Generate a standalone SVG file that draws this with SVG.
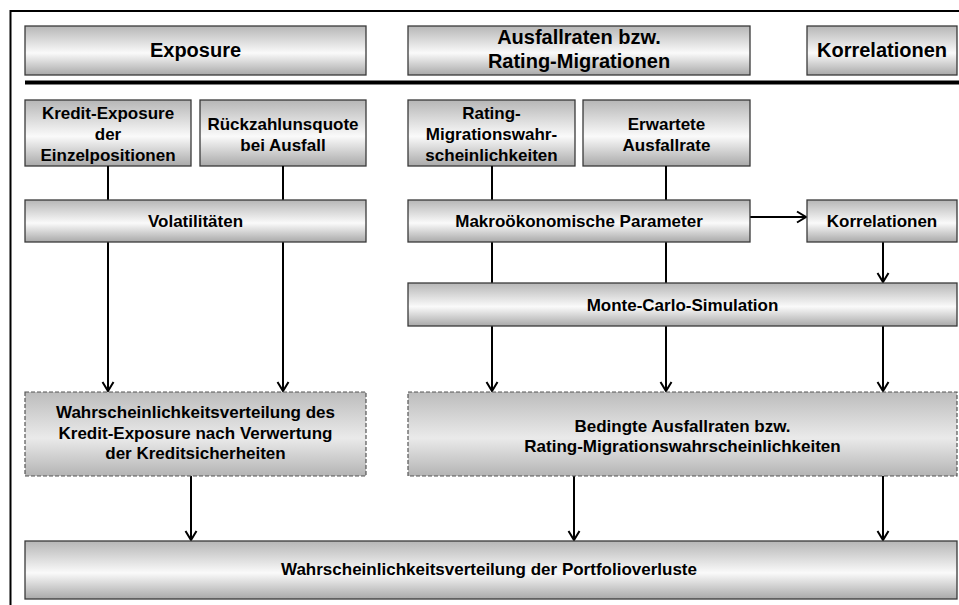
<svg xmlns="http://www.w3.org/2000/svg" width="959" height="605" viewBox="0 0 959 605">
  <defs>
    <linearGradient id="gBox" x1="0" y1="0" x2="0" y2="1">
      <stop offset="0" stop-color="#b6b6b6"/>
      <stop offset="0.55" stop-color="#fafafa"/>
      <stop offset="1" stop-color="#a9a9a9"/>
    </linearGradient>
    <linearGradient id="gDash" x1="0" y1="0" x2="0" y2="1">
      <stop offset="0" stop-color="#bcbcbc"/>
      <stop offset="0.55" stop-color="#eaeaea"/>
      <stop offset="1" stop-color="#b4b4b4"/>
    </linearGradient>
    <marker id="arr" markerUnits="userSpaceOnUse" markerWidth="14" markerHeight="14" viewBox="-11 -7 14 14" refX="0" refY="0" orient="auto">
      <path d="M-9,-5.5 L0,0 L-9,5.5" fill="none" stroke="#000" stroke-width="2"/>
    </marker>
    <style>
      .box { fill: url(#gBox); stroke: #3a3a3a; stroke-width: 1.3; }
      .dash { fill: url(#gDash); stroke: #555; stroke-width: 1.2; stroke-dasharray: 4 2; }
      .t { font-family: "Liberation Sans", Arial, sans-serif; font-weight: bold; font-size: 17px; fill: #000; text-anchor: middle; }
      .h { font-size: 20px; }
      .ln { stroke: #000; stroke-width: 2; fill: none; }
      .arrow { stroke: #000; stroke-width: 2; fill: none; marker-end: url(#arr); }
    </style>
  </defs>

  <rect width="959" height="605" fill="#fff"/>

  <!-- frame and header separator -->
  <path d="M10.5,605 V11 H959" fill="none" stroke="#000" stroke-width="2"/>
  <line x1="25" y1="82.5" x2="959" y2="82.5" stroke="#000" stroke-width="4"/>

  <!-- header row -->
  <g id="hdr-exposure">
    <rect class="box" x="25" y="26" width="341" height="49"/>
    <text class="t h" x="195.5" y="57">Exposure</text>
  </g>
  <g id="hdr-ausfallraten">
    <rect class="box" x="408" y="26" width="342" height="49"/>
    <text class="t h" x="579" y="44">Ausfallraten bzw.</text>
    <text class="t h" x="579" y="68">Rating-Migrationen</text>
  </g>
  <g id="hdr-korrelationen">
    <rect class="box" x="807" y="26" width="150" height="49"/>
    <text class="t h" x="882" y="57">Korrelationen</text>
  </g>

  <!-- input row -->
  <g id="kredit-exposure">
    <rect class="box" x="25" y="100" width="166" height="66"/>
    <text class="t" x="108" y="119">Kredit-Exposure</text>
    <text class="t" x="108" y="140">der</text>
    <text class="t" x="108" y="161">Einzelpositionen</text>
  </g>
  <g id="rueckzahlungsquote">
    <rect class="box" x="200" y="100" width="166" height="66"/>
    <text class="t" x="283" y="130">Rückzahlunsquote</text>
    <text class="t" x="283" y="151">bei Ausfall</text>
  </g>
  <g id="migrationswahrscheinlichkeiten">
    <rect class="box" x="408" y="100" width="167" height="66"/>
    <text class="t" x="491.5" y="119">Rating-</text>
    <text class="t" x="491.5" y="140">Migrationswahr-</text>
    <text class="t" x="491.5" y="161">scheinlichkeiten</text>
  </g>
  <g id="erwartete-ausfallrate">
    <rect class="box" x="583" y="100" width="167" height="66"/>
    <text class="t" x="666.5" y="130">Erwartete</text>
    <text class="t" x="666.5" y="151">Ausfallrate</text>
  </g>

  <!-- connectors -->
  <g id="connectors">
    <line class="ln" x1="108" y1="166" x2="108" y2="200"/>
    <line class="ln" x1="283" y1="166" x2="283" y2="200"/>
    <line class="ln" x1="492" y1="166" x2="492" y2="200"/>
    <line class="ln" x1="666" y1="166" x2="666" y2="200"/>
    <line class="arrow" x1="108" y1="242" x2="108" y2="391"/>
    <line class="arrow" x1="283" y1="242" x2="283" y2="391"/>
    <line class="arrow" x1="750" y1="217" x2="806" y2="217"/>
    <line class="ln" x1="492" y1="242" x2="492" y2="283"/>
    <line class="ln" x1="666" y1="242" x2="666" y2="283"/>
    <line class="arrow" x1="883" y1="242" x2="883" y2="282"/>
    <line class="arrow" x1="492" y1="326" x2="492" y2="391"/>
    <line class="arrow" x1="666" y1="326" x2="666" y2="391"/>
    <line class="arrow" x1="883" y1="326" x2="883" y2="391"/>
    <line class="arrow" x1="191" y1="476" x2="191" y2="540"/>
    <line class="arrow" x1="574" y1="476" x2="574" y2="540"/>
    <line class="arrow" x1="883" y1="476" x2="883" y2="540"/>
  </g>

  <!-- middle row -->
  <g id="volatilitaeten">
    <rect class="box" x="25" y="200" width="341" height="42"/>
    <text class="t" x="195.5" y="227">Volatilitäten</text>
  </g>
  <g id="makro-parameter">
    <rect class="box" x="408" y="200" width="342" height="42"/>
    <text class="t" x="579" y="227">Makroökonomische Parameter</text>
  </g>
  <g id="korrelationen">
    <rect class="box" x="807" y="200" width="150" height="42"/>
    <text class="t" x="882" y="227">Korrelationen</text>
  </g>
  <g id="monte-carlo">
    <rect class="box" x="408" y="283" width="549" height="43"/>
    <text class="t" x="682.5" y="310.5">Monte-Carlo-Simulation</text>
  </g>

  <!-- result row -->
  <g id="verteilung-exposure">
    <rect class="dash" x="25" y="392" width="341" height="84"/>
    <text class="t" x="195.5" y="418">Wahrscheinlichkeitsverteilung des</text>
    <text class="t" x="195.5" y="438.5">Kredit-Exposure nach Verwertung</text>
    <text class="t" x="195.5" y="459">der Kreditsicherheiten</text>
  </g>
  <g id="bedingte-ausfallraten">
    <rect class="dash" x="408" y="392" width="549" height="84"/>
    <text class="t" x="682.5" y="431.5">Bedingte Ausfallraten bzw.</text>
    <text class="t" x="682.5" y="452">Rating-Migrationswahrscheinlichkeiten</text>
  </g>
  <g id="portfolioverluste">
    <rect class="box" x="25" y="541" width="932" height="58"/>
    <text class="t" x="489" y="575">Wahrscheinlichkeitsverteilung der Portfolioverluste</text>
  </g>
</svg>
